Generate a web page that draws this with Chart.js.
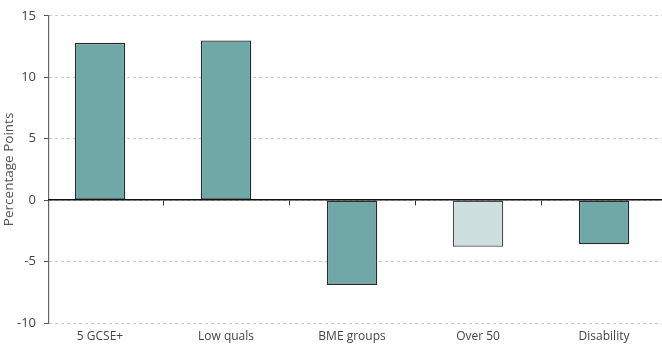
<!DOCTYPE html>
<html>
<head>
<meta charset="utf-8">
<script src="https://cdn.jsdelivr.net/npm/chart.js@4/dist/chart.umd.min.js"></script>
<style>
  html, body { margin: 0; padding: 0; background: #fff; }
  #wrap { width: 662px; height: 347px; }
</style>
</head>
<body>
<div id="wrap"><canvas id="c" width="662" height="347"></canvas></div>
<script>
// Change in percentage points by group
const categories = ['5 GCSE+', 'Low quals', 'BME groups', 'Over 50', 'Disability'];
const values = [12.8, 13.0, -6.9, -3.8, -3.6];
const highlighted = [false, false, false, true, false];
const yTicks = [-10, -5, 0, 5, 10, 15];

const TEAL = '#70a8a8';
const PALE = '#cde0df';
const FONT = "'Open Sans', 'Noto Sans', sans-serif";

const indexTicks = () => categories.map((_, i) => ({ value: i }));

new Chart(document.getElementById('c'), {
  type: 'bar',
  data: {
    datasets: [{
      data: categories.map((c, i) => ({ x: i, y: values[i] })),
      backgroundColor: highlighted.map(h => h ? PALE : TEAL),
      borderColor: highlighted.map(h => h ? '#4a4a4a' : '#2a2a2a'),
      borderWidth: 1.3,
      borderSkipped: false,
      barPercentage: 0.4,
      categoryPercentage: 1
    }]
  },
  options: {
    responsive: false,
    animation: false,
    events: [],
    layout: { padding: { top: 15, right: 0, left: 0, bottom: 0 } },
    plugins: { legend: { display: false }, tooltip: { enabled: false } },
    scales: {
      x: {
        type: 'linear',
        position: 'bottom',
        offset: false,
        min: -0.405,
        max: 4.46,
        afterBuildTicks: s => { s.ticks = indexTicks(); },
        afterFit: s => { s.height = 24; },
        grid: { display: false, drawTicks: false, offset: false },
        border: { display: false },
        ticks: {
          padding: 6,
          color: '#444',
          font: { family: FONT, size: 12 },
          callback: v => categories[v]
        }
      },
      zero: {
        type: 'linear',
        axis: 'x',
        position: { y: 0 },
        offset: false,
        min: -0.405,
        max: 4.46,
        afterBuildTicks: s => { s.ticks = indexTicks(); },
        grid: {
          offset: true,
          drawOnChartArea: false,
          drawTicks: true,
          tickLength: 5,
          tickColor: '#333',
          tickWidth: 1
        },
        border: { display: true, color: '#111', width: 1.4, z: 1 },
        ticks: { display: false }
      },
      y: {
        min: -10,
        max: 15,
        afterBuildTicks: s => { s.ticks = yTicks.map(v => ({ value: v })); },
        afterFit: s => { s.width = 49; },
        grid: {
          color: '#c8c8c8',
          lineWidth: 1,
          drawTicks: true,
          tickLength: 5,
          tickColor: '#555',
          tickBorderDash: []
        },
        border: { display: true, color: '#666', width: 1.2, dash: [3, 3] },
        ticks: {
          padding: 8,
          color: '#444',
          font: { family: FONT, size: 13 }
        },
        title: {
          display: true,
          text: 'Percentage Points',
          color: '#555',
          font: { family: FONT, size: 13.5 },
          padding: { top: 1, bottom: 2 }
        }
      }
    }
  }
});
</script>
</body>
</html>
